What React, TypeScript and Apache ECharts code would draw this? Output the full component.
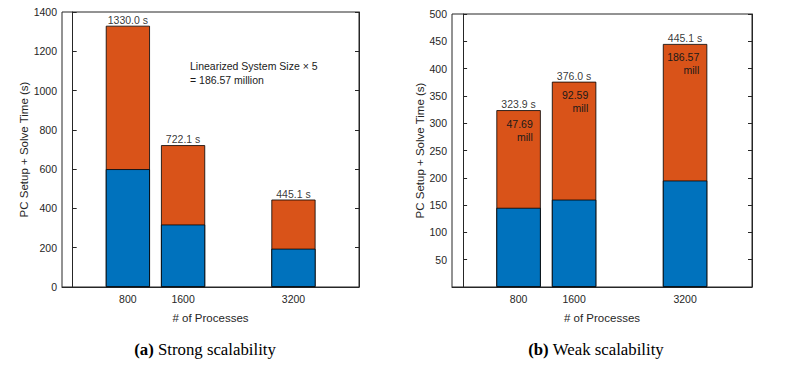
import React, { useEffect, useRef } from "react";
import * as echarts from "echarts";

const processes = [800, 1600, 3200];
const strongSetup = [600, 318, 195];
const strongTotal = [1330.0, 722.1, 445.1];
const weakSetup = [145, 160, 195];
const weakTotal = [323.9, 376.0, 445.1];
const weakSizes = ["47.69", "92.59", "186.57"];
const annotationLines = ["Linearized System Size \u00d7 5", "= 186.57 million"];
const captions = [
  { tag: "(a)", text: " Strong scalability" },
  { tag: "(b)", text: " Weak scalability" },
];

const BLUE = "#0072BD";
const ORANGE = "#D95319";
const AX = "#262626";
const SANS = "Liberation Sans, Arial, sans-serif";
const SERIF = "Liberation Serif, Times New Roman, serif";
const BAR_UNITS = 640;

const grids = [
  { left: 62, top: 12, width: 297, height: 275, xMin: -155, xMax: 4150, yMax: 1400, yInt: 200, showZero: true, nameGap: 31 },
  { left: 452, top: 14, width: 300, height: 273, xMin: -160, xMax: 4165, yMax: 500, yInt: 50, showZero: false, nameGap: 24 },
];

export default function App() {
  const ref = useRef<HTMLDivElement>(null);
  useEffect(() => {
    if (!ref.current) return;
    const chart = echarts.init(ref.current, undefined, { renderer: "svg" });
    const plain = (v: number) => String(v);

    const xAxes: any[] = [];
    const yAxes: any[] = [];
    grids.forEach((g, i) => {
      xAxes.push({
        type: "value",
        gridIndex: i,
        min: g.xMin,
        max: g.xMax,
        name: "# of Processes",
        nameLocation: "middle",
        nameGap: 25,
        nameTextStyle: { fontFamily: SANS, fontSize: 11.5, color: AX },
        axisLine: { show: true, lineStyle: { color: AX, width: 1 } },
        axisTick: { show: true, inside: true, length: 3, customValues: processes, lineStyle: { color: AX } },
        axisLabel: { show: true, customValues: processes, formatter: plain, margin: 6, fontFamily: SANS, fontSize: 10.5, color: AX },
        splitLine: { show: false },
      });
      yAxes.push({
        type: "value",
        gridIndex: i,
        min: 0,
        max: g.yMax,
        interval: g.yInt,
        name: "PC Setup + Solve Time (s)",
        nameLocation: "middle",
        nameGap: g.nameGap,
        nameTextStyle: { fontFamily: SANS, fontSize: 11.5, color: AX },
        axisLine: { show: true, lineStyle: { color: AX, width: 1 } },
        axisTick: { show: true, inside: true, length: 4, lineStyle: { color: AX } },
        axisLabel: { showMinLabel: g.showZero, formatter: plain, margin: 5, fontFamily: SANS, fontSize: 10.5, color: AX },
        splitLine: { show: false },
      });
      yAxes.push({
        type: "value",
        gridIndex: i,
        position: "right",
        min: 0,
        max: g.yMax,
        interval: g.yInt,
        axisLine: { show: true, lineStyle: { color: AX, width: 1 } },
        axisTick: { show: true, inside: true, length: 4, lineStyle: { color: AX } },
        axisLabel: { show: false },
        splitLine: { show: false },
      });
    });

    const barW = (g: any) => (BAR_UNITS / (g.xMax - g.xMin)) * g.width;
    const sets = [
      { setup: strongSetup, total: strongTotal, inner: null as null | string[] },
      { setup: weakSetup, total: weakTotal, inner: weakSizes },
    ];
    const series: any[] = [];
    sets.forEach((s, i) => {
      const g = grids[i];
      const common = {
        type: "bar",
        xAxisIndex: i,
        yAxisIndex: i * 2,
        barWidth: barW(g),
        barGap: "-100%",
      };
      // full-height bar (total time), the solve part shows above the setup part
      series.push({
        ...common,
        name: "total" + i,
        z: 2,
        data: processes.map((p, k) => [p, s.total[k]]),
        itemStyle: { color: ORANGE, borderColor: "#000", borderWidth: 0.8 },
        label: s.inner
          ? {
              show: true,
              position: ["82%", 7],
              align: "right",
              verticalAlign: "top",
              fontFamily: SANS,
              fontSize: 10.5,
              lineHeight: 13,
              color: "#1a1a1a",
              formatter: (p: any) => `${s.inner![p.dataIndex]}\nmill`,
            }
          : { show: false },
      });
      series.push({
        ...common,
        name: "setup" + i,
        z: 3,
        data: processes.map((p, k) => [p, s.setup[k]]),
        itemStyle: { color: BLUE, borderColor: "#000", borderWidth: 0.8 },
      });
      series.push({
        type: "scatter",
        xAxisIndex: i,
        yAxisIndex: i * 2,
        symbolSize: 1,
        itemStyle: { color: "rgba(0,0,0,0)" },
        z: 5,
        data: processes.map((p, k) => [p, s.total[k]]),
        label: {
          show: true,
          position: "top",
          distance: 0,
          fontFamily: SANS,
          fontSize: 10.5,
          color: "#000",
          formatter: (p: any) => `${s.total[p.dataIndex].toFixed(1)} s`,
        },
      });
    });

    const graphic: any[] = [
      {
        type: "text",
        left: 190,
        top: 59,
        style: {
          text: annotationLines.join("\n"),
          fontFamily: SANS,
          fontSize: 10.5,
          lineHeight: 14,
          fill: "#1a1a1a",
        },
      },
    ];
    const capX = [205, 596];
    captions.forEach((c, i) => {
      graphic.push({
        type: "text",
        x: capX[i],
        y: 349,
        style: {
          text: `{b|${c.tag}}{n|${c.text}}`,
          align: "center",
          verticalAlign: "middle",
          rich: {
            b: { fontFamily: SERIF, fontSize: 16.8, fontWeight: "bold", fill: "#000" },
            n: { fontFamily: SERIF, fontSize: 16.8, fill: "#000" },
          },
        },
      });
    });

    chart.setOption({
      animation: false,
      backgroundColor: "#fff",
      grid: grids.map((g) => ({
        left: g.left,
        top: g.top,
        width: g.width,
        height: g.height,
        show: true,
        borderColor: AX,
        borderWidth: 1,
        backgroundColor: "transparent",
      })),
      xAxis: xAxes,
      yAxis: yAxes,
      series,
      graphic,
    });
    return () => chart.dispose();
  }, []);
  return (
    <div
      ref={ref}
      style={{ position: "fixed", left: 0, top: 0, width: 807, height: 378, background: "#fff" }}
    />
  );
}
